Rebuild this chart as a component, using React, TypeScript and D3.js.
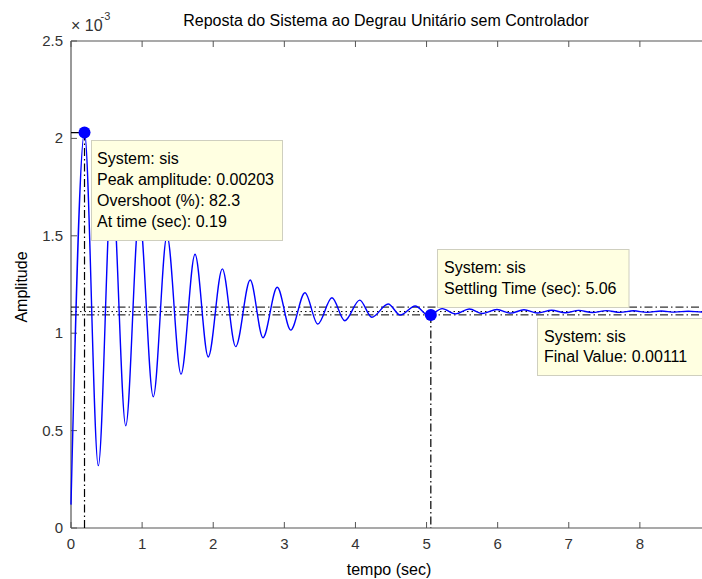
import React from "react";
import * as d3 from "d3";

// Step response extrema (time in s, amplitude in 1e-3)
const times = [0, 0.19, 0.384, 0.575, 0.77, 0.96, 1.157, 1.35, 1.547, 1.744, 1.93, 2.128, 2.316, 2.52, 2.7, 2.9, 3.09, 3.29, 3.47, 3.67, 3.85, 4.06, 4.23, 4.46, 4.63, 4.84, 5.03, 5.22, 5.41, 5.6, 5.79, 5.99, 6.18, 6.37, 6.56, 6.76, 6.95, 7.14, 7.33, 7.53, 7.72, 7.91, 8.1, 8.3, 8.49, 8.68, 8.87, 9.0];
const amps = [0.12, 2.03, 0.32, 1.79, 0.525, 1.61, 0.674, 1.5, 0.79, 1.405, 0.878, 1.33, 0.931, 1.273, 0.977, 1.236, 1.016, 1.208, 1.047, 1.182, 1.064, 1.17, 1.082, 1.15, 1.093, 1.14, 1.09, 1.126, 1.099, 1.124, 1.101, 1.122, 1.103, 1.12, 1.104, 1.118, 1.105, 1.117, 1.106, 1.116, 1.107, 1.115, 1.107, 1.114, 1.108, 1.113, 1.109, 1.111];

const xTicks = [0, 1, 2, 3, 4, 5, 6, 7, 8];
const xTickLabels = ["0", "1", "2", "3", "4", "5", "6", "7", "8"];
const yTicks = [0, 0.5, 1, 1.5, 2, 2.5];
const yTickLabels = ["0", "0.5", "1", "1.5", "2", "2.5"];

const peakPoint = [0.19, 2.03];
const settlePoint = [5.06, 1.093];
const bandDashDot = [1.134, 1.094];
const finalValue = [1.111];

const titleText = "Reposta do Sistema ao Degrau Unitário sem Controlador";
const xLabel = "tempo (sec)";
const yLabel = "Amplitude";
const peakBoxLines = ["System: sis", "Peak amplitude: 0.00203", "Overshoot (%): 82.3", "At time (sec): 0.19"];
const settleBoxLines = ["System: sis", "Settling Time (sec): 5.06"];
const finalBoxLines = ["System: sis", "Final Value: 0.00111"];

const W = 702;
const H = 579;
const FONT = "'Liberation Sans', Arial, Helvetica, sans-serif";

export default function App() {
  const x = d3.scaleLinear().domain([0, 9]).range([71, 711]);
  const y = d3.scaleLinear().domain([0, 2.5]).range([528, 41]);
  const pts: [number, number][] = times.map((t, i) => [t, amps[i]]);
  const line = d3
    .line<[number, number]>()
    .x((d) => x(d[0]))
    .y((d) => y(d[1]))
    .curve(d3.curveMonotoneX);

  const axisColor = "#555";
  const tickColor = "#333";
  const dashDot = "8,3,1.5,3";
  const boxFill = "#ffffe1";
  const boxStroke = "#cfcfbf";

  const box = (left: number, top: number, w: number, h: number, lines: string[], tx: number, baselines: number[]) => (
    <g>
      <rect x={left} y={top} width={w} height={h} fill={boxFill} stroke={boxStroke} strokeWidth={1} />
      {lines.map((l, i) => (
        <text key={i} x={tx} y={baselines[i]} fontSize={16} fill="#000">
          {l}
        </text>
      ))}
    </g>
  );

  return (
    <svg width={W} height={H} style={{ position: "absolute", left: 0, top: 0, background: "#fff" }} fontFamily={FONT}>
      <rect x={0} y={0} width={W} height={H} fill="#fff" />
      {/* axes frame */}
      <line x1={x(0)} x2={x(9)} y1={y(0)} y2={y(0)} stroke={axisColor} strokeWidth={1.2} />
      <line x1={x(0)} x2={x(9)} y1={y(2.5)} y2={y(2.5)} stroke={axisColor} strokeWidth={1.2} />
      <line x1={x(0)} x2={x(0)} y1={y(0)} y2={y(2.5)} stroke={axisColor} strokeWidth={1.2} />
      {xTicks.map((t) => (
        <g key={"xt" + t}>
          <line x1={x(t)} x2={x(t)} y1={y(0)} y2={y(0) - 6} stroke={axisColor} />
          <line x1={x(t)} x2={x(t)} y1={y(2.5)} y2={y(2.5) + 6} stroke={axisColor} />
        </g>
      ))}
      {xTicks.map((t, i) => (
        <text key={"xl" + t} x={x(t)} y={549} fontSize={15} fill={tickColor} textAnchor="middle">
          {xTickLabels[i]}
        </text>
      ))}
      {yTicks.map((v) => (
        <line key={"yt" + v} x1={x(0)} x2={x(0) + 6} y1={y(v)} y2={y(v)} stroke={axisColor} />
      ))}
      {yTicks.map((v, i) => (
        <text key={"yl" + v} x={63} y={y(v) + 5} fontSize={15} fill={tickColor} textAnchor="end">
          {yTickLabels[i]}
        </text>
      ))}

      {/* characteristic lines */}
      {bandDashDot.map((v, i) => (
        <line key={"b" + i} x1={x(0)} x2={x(9)} y1={y(v)} y2={y(v)} stroke="#000" strokeWidth={1} strokeDasharray={dashDot} />
      ))}
      {finalValue.map((v, i) => (
        <line key={"f" + i} x1={x(0)} x2={x(9)} y1={y(v)} y2={y(v)} stroke="#000" strokeWidth={1} strokeDasharray="1.5,3" />
      ))}
      <line x1={x(peakPoint[0])} x2={x(peakPoint[0])} y1={y(peakPoint[1])} y2={y(0)} stroke="#000" strokeWidth={1.2} strokeDasharray={dashDot} />
      <line x1={x(0)} x2={x(peakPoint[0])} y1={y(peakPoint[1])} y2={y(peakPoint[1])} stroke="#000" strokeWidth={1.2} strokeDasharray={dashDot} />
      <line x1={x(settlePoint[0])} x2={x(settlePoint[0])} y1={y(settlePoint[1])} y2={y(0)} stroke="#000" strokeWidth={1.2} strokeDasharray={dashDot} />

      {/* response curve */}
      <path d={line(pts) || ""} fill="none" stroke="#0000ff" strokeWidth={1.4} />

      {/* markers */}
      <circle cx={x(peakPoint[0])} cy={y(peakPoint[1])} r={6} fill="#0000ff" />
      <circle cx={x(settlePoint[0])} cy={y(settlePoint[1])} r={6} fill="#0000ff" />

      {/* data tips */}
      {box(91.5, 140.5, 191, 100, peakBoxLines, 97, [164, 185, 206, 227])}
      {box(437.5, 249.5, 191.5, 58, settleBoxLines, 444, [273, 294])}
      {box(537.5, 318.5, 170, 57, finalBoxLines, 544, [341.5, 361.5])}

      {/* title and labels */}
      <text x={386} y={26} fontSize={16} textAnchor="middle" fill="#000">
        {titleText}
      </text>
      <text x={71} y={30.5} fontSize={16} fill={tickColor}>
        {"\u00d7 10"}
      </text>
      <text x={100.5} y={20} fontSize={11} fill={tickColor}>
        {"-3"}
      </text>
      <text x={389} y={575} fontSize={16} textAnchor="middle" fill="#000">
        {xLabel}
      </text>
      <text transform="translate(27,287) rotate(-90)" fontSize={16} textAnchor="middle" fill="#000">
        {yLabel}
      </text>
    </svg>
  );
}
